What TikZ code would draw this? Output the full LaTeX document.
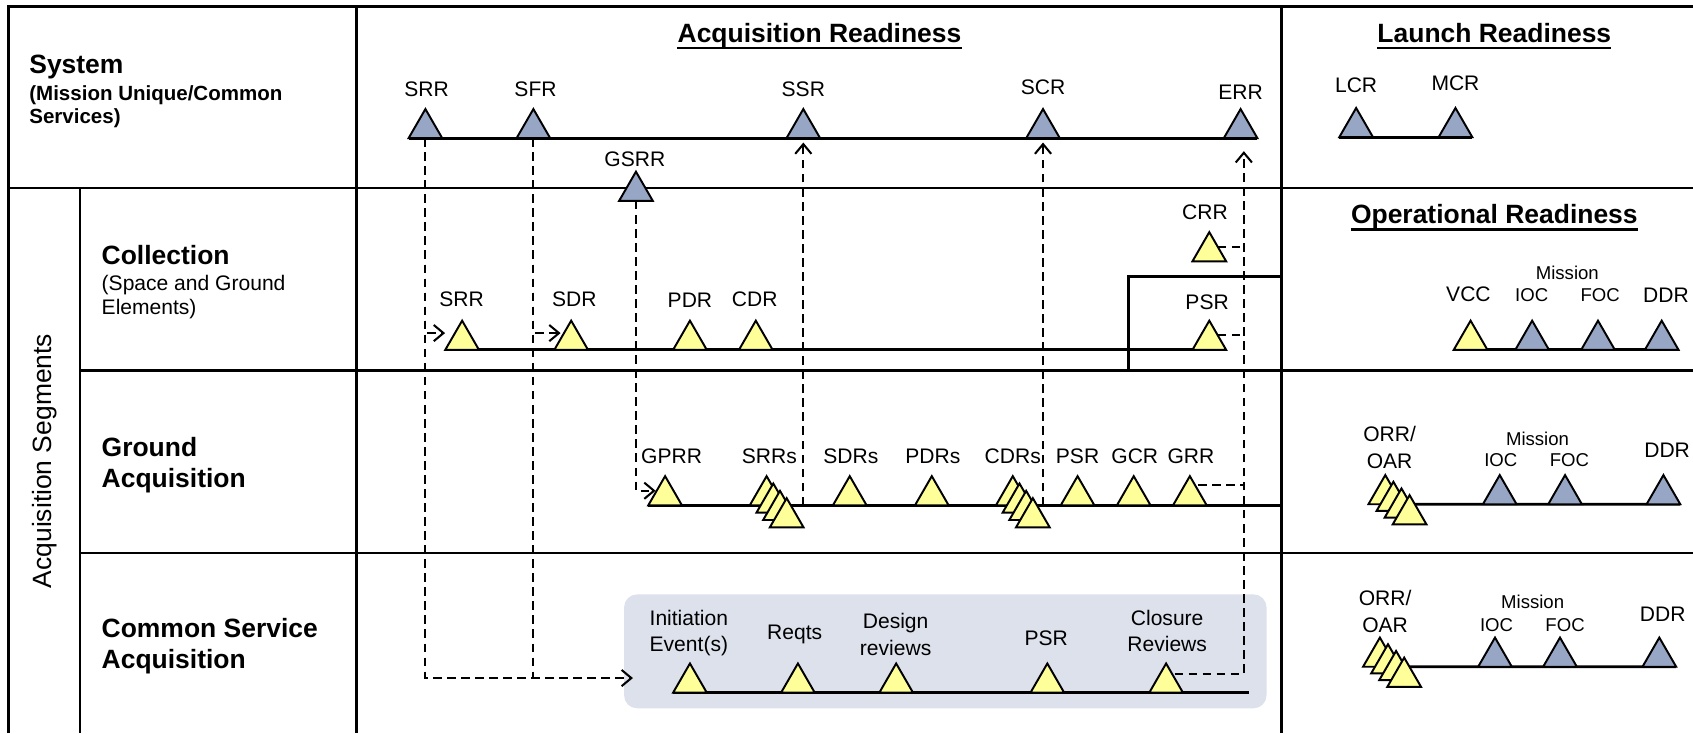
\documentclass[tikz,border=0pt]{standalone}
\usepackage{fontspec}
\setmainfont{Liberation Sans}
\usetikzlibrary{shapes.geometric,arrows.meta}
\pgfdeclarelayer{background}
\pgfsetlayers{background,main}
\definecolor{sysblue}{RGB}{151,166,196}
\definecolor{segyellow}{RGB}{255,255,153}
\definecolor{csgray}{RGB}{221,225,236}

\begin{document}
\begin{tikzpicture}[x=1pt,y=-1pt,
    tableline/.style={line width=2.2pt},
    timeline/.style={line width=2.6pt},
    dep/.style={line width=1.9pt,dash pattern=on 8pt off 5pt},
    deparrow/.style={dep,-{Straight Barb[length=9pt,width=15pt]}},
    ms/.style={regular polygon,regular polygon sides=3,minimum size=36pt,
      inner sep=0pt,outer sep=0pt,draw,line width=1.8pt,anchor=south},
    sysms/.style={ms,fill=sysblue},
    segms/.style={ms,fill=segyellow},
    lbl/.style={font=\fontsize{19.5}{24.5}\selectfont,inner sep=0pt,anchor=base},
    lbltwo/.style={font=\fontsize{19.5}{24.5}\selectfont,inner sep=0pt,align=center,anchor=north},
    smalllbl/.style={font=\fontsize{17.2}{19}\selectfont,inner sep=0pt,anchor=base},
    colhead/.style={font=\fontsize{24.5}{27}\selectfont\bfseries,inner sep=0pt,anchor=base},
    rowhead/.style={font=\fontsize{24.5}{29}\selectfont\bfseries,inner sep=0pt,align=left,anchor=north west},
    rowsub/.style={font=\fontsize{19.5}{22}\selectfont,inner sep=0pt,align=left,anchor=north west}]
\useasboundingbox (0,0) rectangle (1568,679);

% table
\draw[tableline] (8,679) -- (8,6) -- (1568,6);
\draw[tableline] (8,174) -- (1568,174);
\draw[tableline] (74,174) -- (74,679);
\draw[tableline] (74,343) -- (1568,343);
\draw[tableline] (74,512) -- (1568,512);
\draw[tableline] (330,6) -- (330,679);
\draw[tableline] (1187,6) -- (1187,679);
\draw[tableline] (1045,343) |- (1187,256);
\coordinate (acqEnd) at (1187,0);

% column heads
\node[colhead] (tAcq) at (759,39) {Acquisition Readiness};
\node[colhead] (tLaunch) at (1384,39) {Launch Readiness};
\node[colhead] (tOps) at (1384,207) {Operational Readiness};
\foreach \t in {tAcq,tLaunch,tOps}
  \draw[line width=2pt] ([yshift=-5.5pt]\t.base west) -- ([yshift=-5.5pt]\t.base east);

% row heads
\node[rowhead] (hSys) at (27,51) {System};
\node[rowsub,font=\fontsize{19}{21}\selectfont\bfseries] (hSysSub) at (27,79) {(Mission Unique/Common\\Services)};
\node[rotate=90,font=\fontsize{24.5}{27}\selectfont] (hSeg) at (41,427) {Acquisition Segments};
\node[rowhead] (hColl) at (94,227) {Collection};
\node[rowsub] (hCollSub) at (94,255) {(Space and Ground\\Elements)};
\node[rowhead] (hGround) at (94,404.5) {Ground\\Acquisition};
\node[rowhead] (hCommon) at (94,572.5) {Common Service\\Acquisition};

% system milestones
\node[sysms] (sSRR) at (394,128) {};
\node[sysms] (sSFR) at (494,128) {};
\node[sysms] (sSSR) at (744,128) {};
\node[sysms] (sSCR) at (966,128) {};
\node[sysms] (sERR) at (1149,128) {};
\node[sysms] (sGSRR) at (589,186) {};
\node[sysms] (lLCR) at (1256,127) {};
\node[sysms] (lMCR) at (1348,127) {};
\node[lbl] (sSRRl) at (395,89.5) {SRR};
\node[lbl] (sSFRl) at (496,89.5) {SFR};
\node[lbl] (sSSRl) at (744,89.5) {SSR};
\node[lbl] (sSCRl) at (966,87.5) {SCR};
\node[lbl] (sERRl) at (1149,92.5) {ERR};
\node[lbl] (sGSRRl) at (588,154) {GSRR};
\node[lbl] (lLCRl) at (1256,85.5) {LCR};
\node[lbl] (lMCRl) at (1348,83.5) {MCR};

% collection
\node[segms] (cSRR) at (428,324) {};
\node[segms] (cSDR) at (529,324) {};
\node[segms] (cPDR) at (639,324) {};
\node[segms] (cCDR) at (700,324) {};
\node[segms] (cPSR) at (1120,324) {};
\node[segms] (cCRR) at (1120,242) {};
\node[lbl] (cSRRl) at (427.5,283.5) {SRR};
\node[lbl] (cSDRl) at (532,283.5) {SDR};
\node[lbl] (cPDRl) at (639,284.5) {PDR};
\node[lbl] (cCDRl) at (699,283.5) {CDR};
\node[lbl] (cPSRl) at (1118,286.5) {PSR};
\node[lbl] (cCRRl) at (1116,203.5) {CRR};

% ground
\node[segms] (gGPRR) at (616,468) {};
\foreach \i in {0,...,3}
  \node[segms] (gSRRs\i) at ({710+6.2*\i},{468+6.8*\i}) {};
\node[segms] (gSDRs) at (787,468) {};
\node[segms] (gPDRs) at (863,468) {};
\foreach \i in {0,...,3}
  \node[segms] (gCDRs\i) at ({938+6.2*\i},{468+6.8*\i}) {};
\node[segms] (gPSR) at (998,468) {};
\node[segms] (gGCR) at (1050,468) {};
\node[segms] (gGRR) at (1102,468) {};
\node[lbl] (gGPRRl) at (622,429.5) {GPRR};
\node[lbl] (gSRRsl) at (712.5,429.5) {SRRs};
\node[lbl] (gSDRsl) at (788,429.5) {SDRs};
\node[lbl] (gPDRsl) at (864,429.5) {PDRs};
\node[lbl] (gCDRsl) at (938,429.5) {CDRs};
\node[lbl] (gPSRl) at (998,429.5) {PSR};
\node[lbl] (gGCRl) at (1051,429.5) {GCR};
\node[lbl] (gGRRl) at (1103,429.5) {GRR};

% common service
\node[segms] (csInit) at (639,641.5) {};
\node[segms] (csReqts) at (739,641.5) {};
\node[segms] (csDesign) at (830,641.5) {};
\node[segms] (csPSR) at (970,641.5) {};
\node[segms] (csClose) at (1080,641.5) {};
\node[lbltwo] (csInitl) at (638,565) {Initiation\\Event(s)};
\node[lbl] (csReqtsl) at (736,592.5) {Reqts};
\node[lbltwo] (csDesignl) at (829.5,568) {Design\\reviews};
\node[lbl] (csPSRl) at (969,597.5) {PSR};
\node[lbltwo] (csClosel) at (1081,565) {Closure\\Reviews};

% operational readiness
\node[segms] (oVCC) at (1362,324) {};
\node[sysms] (oIOC) at (1419,324) {};
\node[sysms] (oFOC) at (1480,324) {};
\node[sysms] (oDDR) at (1539,324) {};
\node[lbl] (oVCCl) at (1360,279.5) {VCC};
\node[smalllbl] (oMisl) at (1451.6,258.7) {Mission};
\node[smalllbl] (oIOCl) at (1418.6,279.7) {IOC};
\node[smalllbl] (oFOCl) at (1482,279.7) {FOC};
\node[lbl] (oDDRl) at (1543,280.5) {DDR};

\foreach \i in {0,...,3}
  \node[segms] (ogORR\i) at ({1283+7.5*\i},{467+6.2*\i}) {};
\node[sysms] (ogIOC) at (1389,467) {};
\node[sysms] (ogFOC) at (1449.5,467) {};
\node[sysms] (ogDDR) at (1540.6,467) {};
\node[lbltwo] (ogORRl) at (1287,394.8) {ORR/\\OAR};
\node[smalllbl] (ogMisl) at (1424,412.3) {Mission};
\node[smalllbl] (ogIOCl) at (1390,431.7) {IOC};
\node[smalllbl] (ogFOCl) at (1453.5,431.7) {FOC};
\node[lbl] (ogDDRl) at (1544,424) {DDR};

\foreach \i in {0,...,3}
  \node[segms] (ocORR\i) at ({1278+7.5*\i},{617.5+6.2*\i}) {};
\node[sysms] (ocIOC) at (1384.6,617.5) {};
\node[sysms] (ocFOC) at (1444.8,617.5) {};
\node[sysms] (ocDDR) at (1536.8,617.5) {};
\node[lbltwo] (ocORRl) at (1282.8,546.8) {ORR/\\OAR};
\node[smalllbl] (ocMisl) at (1419.5,563.7) {Mission};
\node[smalllbl] (ocIOCl) at (1386,584.7) {IOC};
\node[smalllbl] (ocFOCl) at (1449.5,584.7) {FOC};
\node[lbl] (ocDDRl) at (1540,575.5) {DDR};

\begin{pgfonlayer}{background}
  \fill[csgray,rounded corners=12pt] (578,550.5) rectangle (1173,656);
  % timelines
  \draw[timeline] (sSRR.corner 2) -- (sERR.corner 3);
  \draw[timeline] (lLCR.corner 2) -- (lMCR.corner 3);
  \draw[timeline] (cSRR.corner 2) -- (cPSR.corner 3);
  \draw[timeline] (gGPRR.corner 2) -- (gGPRR.corner 2 -| acqEnd);
  \draw[timeline] (csInit.corner 2) -- ++(533,0);
  \draw[timeline] (oVCC.corner 2) -- (oDDR.corner 3);
  \draw[timeline] (ogORR0.south) -- (ogDDR.corner 3);
  \draw[timeline] (ocORR0.south) -- (ocDDR.corner 3);
  % dependencies
  \coordinate (csIn) at ([xshift=-45pt]csInit.side 1);
  \coordinate (errIn) at ([xshift=3pt,yshift=-12pt]sERR.south);
  \coordinate (closeOut) at ([yshift=4pt]csClose.side 3);
  \coordinate (grrOut) at ([yshift=5pt]gGRR.side 3);
  \draw[deparrow] (sSRR.south) |- ([xshift=-8pt,yshift=2pt]cSRR.side 1);
  \draw[deparrow] (sSRR.south) |- (csIn);
  \draw[deparrow] (sSFR.south) |- ([xshift=-2pt,yshift=2pt]cSDR.side 1);
  \draw[dep] (sSFR.south) -- (sSFR.south |- csIn);
  \draw[deparrow] (sGSRR.south) |- ([xshift=-1pt]gGPRR.side 1);
  \draw[deparrow] (sSSR.south |- gSRRs0.south) -- ([yshift=-4pt]sSSR.south);
  \draw[deparrow] (sSCR.south |- gCDRs0.south) -- ([yshift=-4pt]sSCR.south);
  \draw[deparrow] (closeOut) -| (errIn);
  \draw[dep] (grrOut) -- (grrOut -| errIn);
  \draw[dep] (cPSR.side 3) -- (cPSR.side 3 -| errIn);
  \draw[dep] (cCRR.side 3) -- (cCRR.side 3 -| errIn);
\end{pgfonlayer}
\end{tikzpicture}
\end{document}
